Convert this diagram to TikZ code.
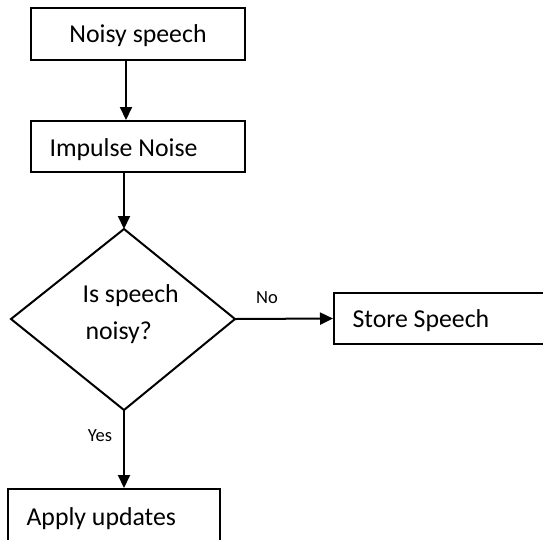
\documentclass[tikz,border=0pt]{standalone}
\usepackage{fontspec}
\setmainfont{Carlito}
\usetikzlibrary{arrows.meta,shapes.geometric}
\begin{document}
\begin{tikzpicture}[x=1pt,y=-1pt,
  big/.style={font=\fontsize{25.8}{30}\selectfont},
  proc/.style={draw,line width=2pt,inner sep=0pt,big},
  flow/.style={line width=2pt,-{Triangle[length=13pt,width=12pt]}},
  lbl/.style={font=\fontsize{18.5}{22}\selectfont}]
\useasboundingbox (0,0) rectangle (543,539);
% process boxes
\node[proc,minimum width=214pt,minimum height=52pt] (noisy) at (138,34) {};
\node[big] (noisyt) at (138,36) {Noisy speech};
\node[proc,minimum width=214pt,minimum height=51pt] (impulse) at (138,146.5) {};
\node[big,anchor=west] (impt) at (46,150) {Impulse Noise};
\node[proc,minimum width=211pt,minimum height=51pt] (store) at (439.5,318.5) {};
\node[big,anchor=west] (storet) at (349,321) {Store Speech};
\node[proc,minimum width=212pt,minimum height=54pt] (apply) at (114,516) {};
\node[big,anchor=west] (applyt) at (23,519) {Apply updates};
% decision
\coordinate (dtop) at (124,229);
\coordinate (dleft) at (11,319);
\coordinate (dright) at (235,319);
\coordinate (dbot) at (124,410);
\draw[line width=2pt,line join=miter] (dtop) -- (dright) -- (dbot) -- (dleft) -- cycle;
\node[big,anchor=west] (q1) at (79,296) {Is speech};
\node[big,anchor=west] (q2) at (82,333) {noisy?};
% connectors
\draw[flow] (noisy.south -| 126,0) -- (impulse.north -| 126,0);
\draw[flow] (impulse.south -| dtop) -- (dtop);
\draw[flow] (dright) -- (store.west);
\draw[flow] (dbot) -- (apply.north -| dbot);
\node[lbl] (no) at (267,298) {No};
\node[lbl] (yes) at (100,435.5) {Yes};
\end{tikzpicture}
\end{document}
